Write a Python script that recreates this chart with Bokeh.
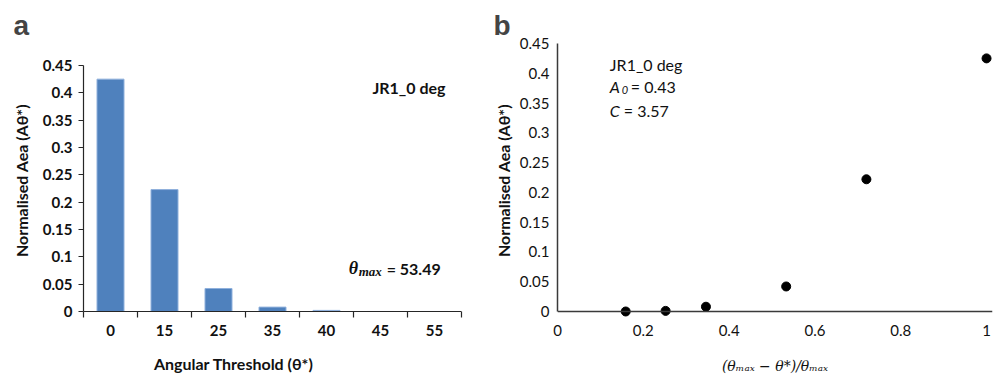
from bokeh.plotting import figure
from bokeh.layouts import row
from bokeh.models import Range1d, FixedTicker, CustomJSTickFormatter, Label, Span
from bokeh.embed import file_html
from bokeh.resources import INLINE

# ---- data ----
categories = ["0", "15", "25", "35", "40", "45", "55"]
area_values = [0.425, 0.223, 0.042, 0.008, 0.002, 0.0, 0.0]
y_ticks = [0, 0.05, 0.1, 0.15, 0.2, 0.25, 0.3, 0.35, 0.4, 0.45]
scatter_x = [0.159, 0.252, 0.346, 0.533, 0.720, 1.0]
scatter_y = [0.0, 0.001, 0.008, 0.042, 0.222, 0.425]
x_ticks_b = [0, 0.2, 0.4, 0.6, 0.8, 1.0]

FONT = "Lato"
INK = "#111111"
num_fmt = CustomJSTickFormatter(code="return String(Math.round(tick*100)/100);")

H = 379
TOP = 43
BOTTOM = 62

# ---------------- panel a ----------------
idx = list(range(len(categories)))
pa = figure(width=490, height=H, output_backend="svg", toolbar_location=None,
            x_range=Range1d(-0.5, len(categories) - 0.5), y_range=Range1d(-0.011, 0.4902),
            min_border_left=83, min_border_right=29, min_border_top=TOP, min_border_bottom=BOTTOM,
            title="a")
pa.title.text_font = "Liberation Sans"
pa.title.text_font_size = "28px"
pa.title.text_font_style = "bold"
pa.title.offset = -70
pa.title.standoff = 5
pa.vbar(x=idx, top=area_values, bottom=0, width=0.5, fill_color="#4F81BD", line_color="#8fb0dc", line_width=1)
pa.xgrid.visible = False
pa.ygrid.visible = False
pa.outline_line_color = None
pa.add_layout(Span(location=0, dimension="width", line_color="#262626", line_width=1.2))

xa = pa.xaxis[0]
xa.ticker = FixedTicker(ticks=idx, minor_ticks=[i - 0.5 for i in range(len(categories) + 1)])
xa.formatter = CustomJSTickFormatter(args=dict(labels=categories),
                                     code="return labels[Math.round(tick)];")
xa.axis_line_color = None
xa.major_tick_line_color = None
xa.major_tick_out = 0
xa.major_tick_in = 0
xa.minor_tick_out = 0
xa.minor_tick_in = 6
xa.minor_tick_line_color = "#262626"
xa.minor_tick_line_width = 1.2
xa.major_label_text_font = FONT
xa.major_label_text_font_style = "bold"
xa.major_label_text_font_size = "15px"
xa.major_label_text_color = INK
xa.major_label_standoff = 7
xa.axis_label = "Angular Threshold (θ*)" + "\u00a0" * 20
xa.axis_label_text_font = FONT
xa.axis_label_text_font_style = "bold"
xa.axis_label_text_font_size = "16px"
xa.axis_label_text_color = INK
xa.axis_label_standoff = 15

ya = pa.yaxis[0]
ya.ticker = FixedTicker(ticks=y_ticks)
ya.formatter = num_fmt
ya.bounds = (0, 0.45)
ya.major_tick_out = 5
ya.major_tick_in = 0
ya.minor_tick_line_color = None
ya.major_tick_line_color = "#262626"
ya.axis_line_color = "#262626"
ya.axis_line_width = 1.2
ya.major_label_text_font = FONT
ya.major_label_text_font_style = "bold"
ya.major_label_text_font_size = "15px"
ya.major_label_text_color = INK
ya.major_label_standoff = 6
ya.axis_label = "Normalised Aea (Aθ*)"
ya.axis_label_text_font = FONT
ya.axis_label_text_font_style = "bold"
ya.axis_label_text_font_size = "16px"
ya.axis_label_text_color = INK
ya.axis_label_standoff = 9

pa.add_layout(Label(x=4.85, y=0.41, text="JR1_0 deg", text_font=FONT, text_font_style="bold",
                    text_font_size="16px", text_color=INK, text_baseline="alphabetic"))
pa.add_layout(Label(x=4.41, y=0.079, text="θ", text_font="Liberation Serif",
                    text_font_style="bold italic", text_font_size="18px", text_color=INK,
                    text_baseline="alphabetic"))
pa.add_layout(Label(x=4.41, y=0.079, x_offset=10, y_offset=-3, text="max", text_font="Liberation Serif",
                    text_font_style="bold italic", text_font_size="13px", text_color=INK,
                    text_baseline="alphabetic"))
pa.add_layout(Label(x=4.41, y=0.079, x_offset=38, text="= 53.49", text_font=FONT,
                    text_font_style="bold", text_font_size="16px", text_color=INK,
                    text_baseline="alphabetic"))

# ---------------- panel b ----------------
pb = figure(width=508, height=H, output_backend="svg", toolbar_location=None,
            x_range=Range1d(0, 1.0139), y_range=Range1d(-0.0101, 0.45),
            min_border_left=63, min_border_right=6, min_border_top=TOP, min_border_bottom=BOTTOM,
            title="b")
pb.title.text_font = "Liberation Sans"
pb.title.text_font_size = "28px"
pb.title.text_font_style = "bold"
pb.title.offset = -64
pb.title.standoff = 5
pb.xgrid.visible = False
pb.ygrid.visible = False
pb.outline_line_color = None

pb.add_layout(Span(location=0, dimension="width", line_color="#3a3a3a", line_width=1.5))
pb.scatter(x=scatter_x, y=scatter_y, size=9, color="black")

xb = pb.xaxis[0]
xb.ticker = FixedTicker(ticks=x_ticks_b)
xb.formatter = num_fmt
xb.axis_line_color = None
xb.major_tick_line_color = None
xb.minor_tick_line_color = None
xb.major_tick_out = 0
xb.major_tick_in = 0
xb.major_label_text_font = FONT
xb.major_label_text_font_size = "15px"
xb.major_label_text_color = INK
xb.major_label_standoff = 7
xb.axis_label = "(θₘₐₓ − θ*)/θₘₐₓ"
xb.axis_label_text_font = "DejaVu Serif"
xb.axis_label_text_font_style = "italic"
xb.axis_label_text_font_size = "14px"
xb.axis_label_text_color = INK
xb.axis_label_standoff = 19

yb = pb.yaxis[0]
yb.ticker = FixedTicker(ticks=y_ticks)
yb.formatter = num_fmt
yb.bounds = (0, 0.45)
yb.axis_line_color = "#3a3a3a"
yb.axis_line_width = 1.5
yb.major_tick_line_color = None
yb.minor_tick_line_color = None
yb.major_tick_out = 0
yb.major_tick_in = 0
yb.major_label_text_font = FONT
yb.major_label_text_font_size = "15px"
yb.major_label_text_color = INK
yb.major_label_standoff = 8
yb.axis_label = "Normalised Aea (Aθ*)"
yb.axis_label_text_font = FONT
yb.axis_label_text_font_style = "bold"
yb.axis_label_text_font_size = "16px"
yb.axis_label_text_color = INK
yb.axis_label_standoff = 4

tx = 0.122
pb.add_layout(Label(x=tx, y=0.415, text="JR1_0 deg", text_font=FONT, text_font_size="16px",
                    text_color=INK, text_baseline="alphabetic"))
pb.add_layout(Label(x=tx, y=0.377, text="A", text_font=FONT, text_font_style="italic",
                    text_font_size="16px", text_color=INK, text_baseline="alphabetic"))
pb.add_layout(Label(x=tx, y=0.377, x_offset=12, y_offset=-3, text="0", text_font=FONT,
                    text_font_style="italic", text_font_size="11px", text_color=INK,
                    text_baseline="alphabetic"))
pb.add_layout(Label(x=tx, y=0.377, x_offset=21, text="= 0.43", text_font=FONT, text_font_size="16px",
                    text_color=INK, text_baseline="alphabetic"))
pb.add_layout(Label(x=tx, y=0.337, text="C", text_font=FONT, text_font_style="italic",
                    text_font_size="16px", text_color=INK, text_baseline="alphabetic"))
pb.add_layout(Label(x=tx, y=0.337, x_offset=14, text="= 3.57", text_font=FONT, text_font_size="16px",
                    text_color=INK, text_baseline="alphabetic"))

layout = row(pa, pb)
open("out.html", "w").write(file_html(layout, INLINE))
